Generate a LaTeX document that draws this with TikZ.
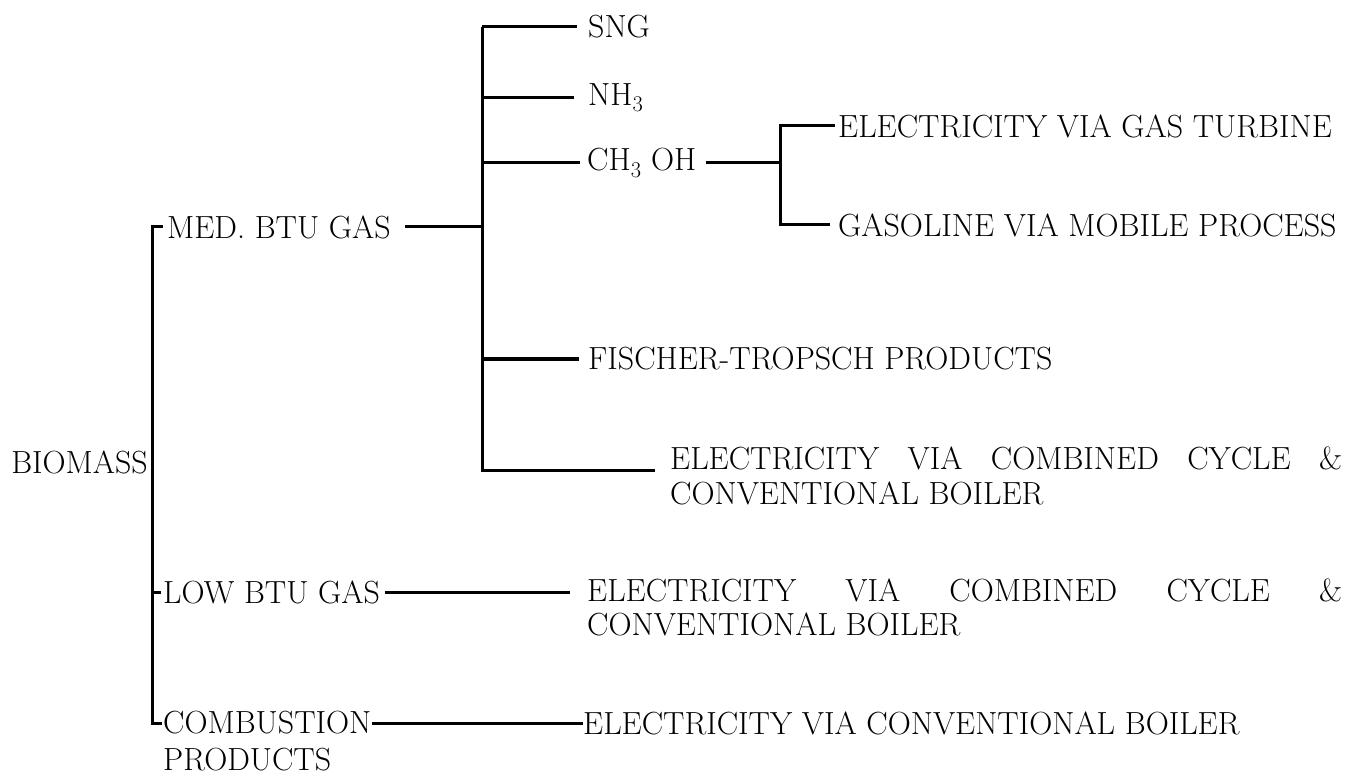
\documentclass[tikz,border=0pt]{standalone}
\usepackage{fontspec}
\usepackage{tikz}
\usetikzlibrary{positioning,calc}

\tikzset{
  lbl/.style={inner sep=0pt, anchor=west, font=\fontsize{32}{38}\selectfont},
  branch/.style={line width=3pt},
}

\begin{document}
\begin{tikzpicture}[x=1pt,y=-1pt]
\useasboundingbox (0,0) rectangle (1354,775);
% columns of the brackets
\coordinate (trunk) at (152,0);
\coordinate (gasbar) at (482,0);
\coordinate (ohbar) at (780,0);
\coordinate (gasend) at (482,470);

% first level
\node[lbl,anchor=east] (biomass) at (148,462) {BIOMASS};
\node[lbl] (med) at (167,227) {MED. BTU GAS};
\node[lbl] (low) at (163,592) {LOW BTU GAS};
\node[lbl] (comb) at (163,723) {COMBUSTION};
\node[lbl] (combb) at (163,760) {PRODUCTS};

% products of the medium BTU gas
\node[lbl] (sng) at (588,27) {SNG};
\node[lbl] (nh3) at (588,98) {NH\textsubscript{3}};
\node[lbl] (meoh) at (587,163) {CH\textsubscript{3} OH};
\node[lbl] (elgt) at (838,126) {ELECTRICITY VIA GAS TURBINE};
\node[lbl] (mogas) at (838,225) {GASOLINE VIA MOBILE PROCESS};
\node[lbl] (ft) at (588,359) {FISCHER-TROPSCH PRODUCTS};
\node[lbl] (ccmed) at (670,458) {\makebox[672pt][s]{ELECTRICITY VIA COMBINED CYCLE \&}};
\node[lbl] (ccmedb) at (670,493) {CONVENTIONAL BOILER};

% low BTU gas and combustion
\node[lbl] (cclow) at (587,590) {\makebox[755pt][s]{ELECTRICITY VIA COMBINED CYCLE \&}};
\node[lbl] (cclowb) at (587,624) {CONVENTIONAL BOILER};
\node[lbl] (boil) at (583,723) {ELECTRICITY VIA CONVENTIONAL BOILER};

% main bracket
\draw[branch] ([xshift=-4pt]med.west) -- (med.west -| trunk) -- (comb.west -| trunk) -- ([xshift=-1pt]comb.west);
\draw[branch] (low.west -| trunk) -- ([xshift=-2pt]low.west);

% medium BTU gas bracket
\draw[branch] ([xshift=14pt]med.east) -- (med.east -| gasbar);
\draw[branch] (sng.west -| gasbar) -- (gasend) -- ([xshift=-15pt]ccmed.west |- gasend);
\draw[branch] (sng.west -| gasbar) -- ([xshift=-11pt]sng.west);
\draw[branch] (nh3.west -| gasbar) -- ([xshift=-14pt]nh3.west);
\draw[branch] (meoh.west -| gasbar) -- ([xshift=-7pt]meoh.west);
\draw[branch] (ft.west -| gasbar) -- ([xshift=-9pt]ft.west);

% methanol bracket
\draw[branch] ([xshift=9pt]meoh.east) -- (meoh.east -| ohbar);
\draw[branch] ([xshift=-3pt]elgt.west) -- (elgt.west -| ohbar) -- (mogas.west -| ohbar) -- ([xshift=-8pt]mogas.west);

% low BTU gas and combustion lines
\draw[branch] ([xshift=5pt]low.east) -- ([xshift=-17pt]low.east -| cclow.west);
\draw[branch] (comb.east) -- (boil.west);
\end{tikzpicture}
\end{document}
